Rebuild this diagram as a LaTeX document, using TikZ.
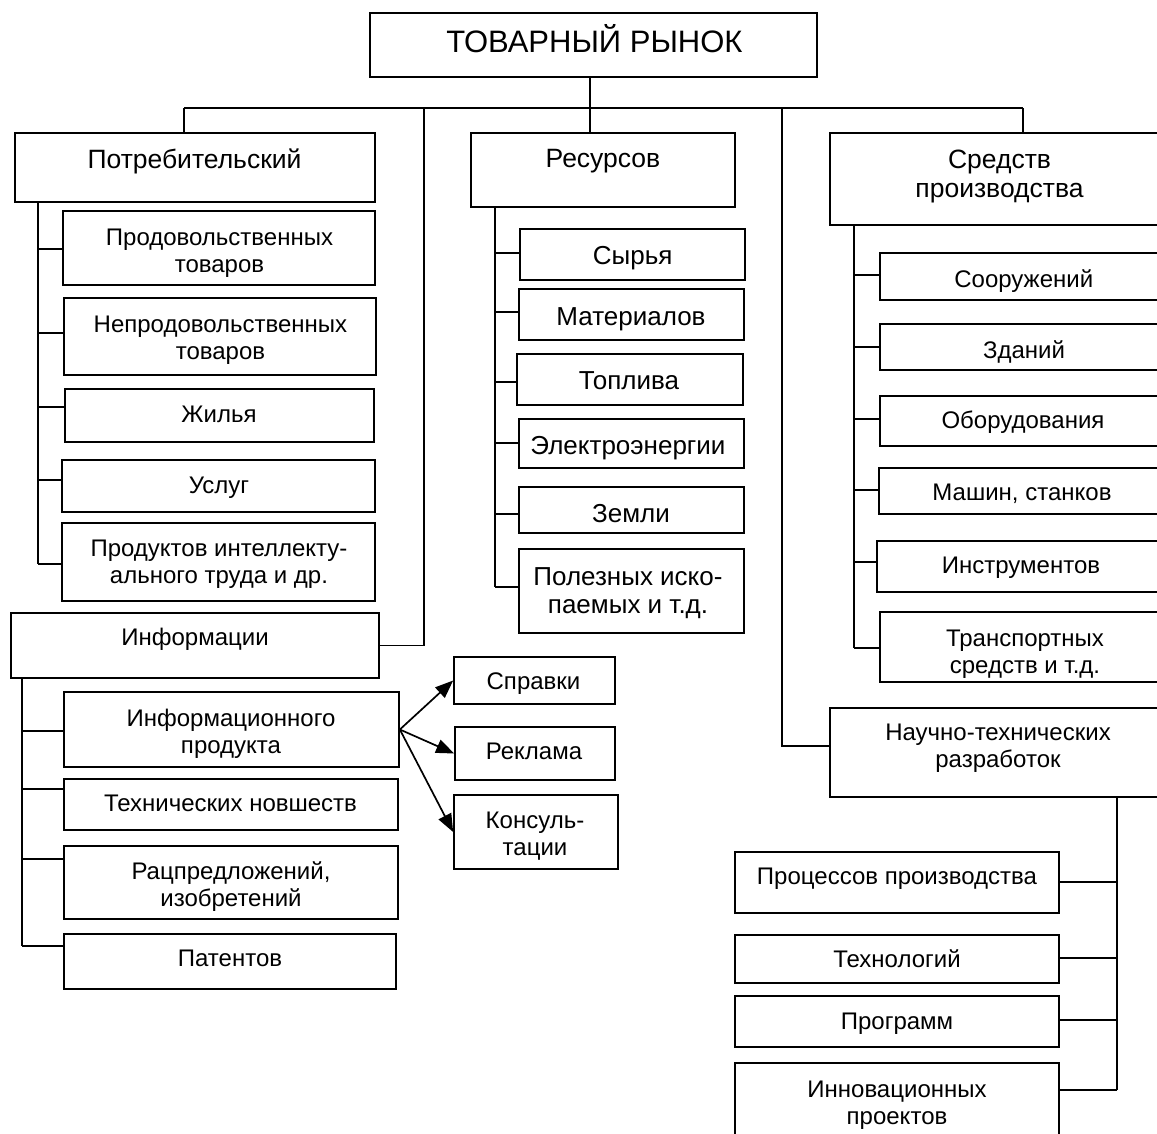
\documentclass[tikz,border=0pt]{standalone}
\usepackage{fontspec}
\setmainfont{Liberation Sans}
\usetikzlibrary{fit,arrows.meta}
\newcommand\fsA{\fontsize{24}{27}\selectfont}
\newcommand\fsB{\fontsize{26}{28}\selectfont}
\newcommand\fsH{\fontsize{26.5}{29}\selectfont}
\newcommand\fsT{\fontsize{31}{36}\selectfont}
\newcommand\bx[5]{\node[box, fit={(#2,#3) (#4,#5)}] (#1) {};}
\begin{document}
\begin{tikzpicture}[x=1pt,y=-1pt,
  box/.style={draw, line width=1.7pt, inner sep=0pt},
  lbl/.style={anchor=base, align=center, inner sep=0pt, font=\fsA},
  lblB/.style={lbl, font=\fsB},
  lblH/.style={lbl, font=\fsH},
  ln/.style={line width=1.7pt},
  arr/.style={line width=1.7pt, -{Triangle[length=18pt,width=14pt]}}]
\clip (0,0) rectangle (1157,1133);
\fill[white] (0,0) rectangle (1157,1133);
% top
\bx{top}{370}{13}{817}{77}
\node[lbl, font=\fsT] (top-t) at (594.5,52) {ТОВАРНЫЙ РЫНОК};
% level 1
\bx{potr}{15}{133}{375}{202}
\node[lblH] (potr-t) at (194.5,168) {Потребительский};
\bx{res}{471}{133}{735}{207}
\node[lblH] (res-t) at (603,167) {Ресурсов};
\bx{sred}{830}{133}{1170}{225}
\node[lblH] (sred-t) at (999.5,197) {Средств\\производства};
\bx{info}{11}{613}{379}{678}
\node[lbl] (info-t) at (195,645) {Информации};
\bx{ntr}{830}{708}{1166}{797}
\node[lbl] (ntr-t) at (998,767) {Научно-технических\\разработок};
% bus
\coordinate (busL) at (184,108);
\coordinate (busR) at (1023,108);
\coordinate (busI) at (424,108);
\coordinate (busN) at (782,108);
\draw[ln] (busL) -- (busR);
\draw[ln] (top.south -| 590,0) -- (res.north -| 590,0);
\draw[ln] (busL) -- (busL |- potr.north);
\draw[ln] (busR) -- (busR |- sred.north);
\draw[ln] (busI) |- (info.east);
\draw[ln] (busN) -- (782,746) -- (ntr.west |- 0,746);
% consumer
\bx{c1}{63}{211}{375}{285}
\node[lbl] (c1-t) at (219.5,272) {Продовольственных\\товаров};
\bx{c2}{64}{298}{376}{375}
\node[lbl] (c2-t) at (220.5,359) {Непродовольственных\\товаров};
\bx{c3}{65}{389}{374}{442}
\node[lbl] (c3-t) at (219,422) {Жилья};
\bx{c4}{62}{460}{375}{512}
\node[lbl] (c4-t) at (219,493) {Услуг};
\bx{c5}{62}{523}{375}{601}
\node[lbl] (c5-t) at (219,583) {Продуктов интеллекту-\\ального труда и др.};
\draw[ln] (potr.south -| 38,0) -- (38,564);
\foreach \n/\y in {c1/249,c2/333,c3/407,c4/480,c5/564}
  \draw[ln] (38,\y) -- (\n.west |- 0,\y);
% resources
\bx{r1}{520}{229}{745}{280}
\node[lblB] (r1-t) at (632.7,264) {Сырья};
\bx{r2}{519}{289}{744}{340}
\node[lblB] (r2-t) at (631,325) {Материалов};
\bx{r3}{517}{354}{743}{405}
\node[lblB] (r3-t) at (629,389) {Топлива};
\bx{r4}{519}{419}{744}{468}
\node[lblB] (r4-t) at (628,454) {Электроэнергии};
\bx{r5}{519}{487}{744}{533}
\node[lblB] (r5-t) at (631,522) {Земли};
\bx{r6}{519}{549}{744}{633}
\node[lblB] (r6-t) at (628,613) {Полезных иско-\\паемых и т.д.};
\draw[ln] (res.south -| 495,0) -- (495,587);
\foreach \n/\y in {r1/253,r2/312,r3/382,r4/443,r5/514,r6/587}
  \draw[ln] (495,\y) -- (\n.west |- 0,\y);
% means of production
\bx{s1}{880}{253}{1166}{300}
\node[lbl] (s1-t) at (1023.8,287) {Сооружений};
\bx{s2}{880}{324}{1166}{370}
\node[lbl] (s2-t) at (1024,358) {Зданий};
\bx{s3}{880}{396}{1166}{446}
\node[lbl] (s3-t) at (1023,428) {Оборудования};
\bx{s4}{879}{468}{1166}{514}
\node[lbl] (s4-t) at (1022,500) {Машин, станков};
\bx{s5}{877}{541}{1166}{592}
\node[lbl] (s5-t) at (1021,573) {Инструментов};
\bx{s6}{880}{612}{1166}{682}
\node[lbl] (s6-t) at (1025,673) {Транспортных\\средств и т.д.};
\draw[ln] (sred.south -| 854,0) -- (854,648);
\foreach \n/\y in {s1/275,s2/347,s3/419,s4/490,s5/562,s6/648}
  \draw[ln] (854,\y) -- (\n.west |- 0,\y);
% information
\bx{i1}{64}{692}{399}{767}
\node[lbl] (i1-t) at (231,753) {Информационного\\продукта};
\bx{i2}{64}{779}{398}{830}
\node[lbl] (i2-t) at (230.5,811) {Технических новшеств};
\bx{i3}{64}{846}{398}{919}
\node[lbl] (i3-t) at (231,906) {Рацпредложений,\\изобретений};
\bx{i4}{64}{934}{396}{989}
\node[lbl] (i4-t) at (230,966) {Патентов};
\draw[ln] (info.south -| 22,0) -- (22,946);
\foreach \n/\y in {i1/731,i2/789,i3/859,i4/946}
  \draw[ln] (22,\y) -- (\n.west |- 0,\y);
\bx{p1}{454}{657}{615}{704}
\node[lbl] (p1-t) at (533.5,689) {Справки};
\bx{p2}{455}{727}{615}{780}
\node[lbl] (p2-t) at (534,759) {Реклама};
\bx{p3}{454}{795}{618}{869}
\node[lbl] (p3-t) at (535,855) {Консуль-\\тации};
\draw[arr] (i1.east) -- (p1.west);
\draw[arr] (i1.east) -- (p2.west);
\draw[arr] (i1.east) -- (p3.west);
% R&D
\bx{n1}{735}{852}{1059}{913}
\node[lbl] (n1-t) at (897,884) {Процессов производства};
\bx{n2}{735}{935}{1059}{983}
\node[lbl] (n2-t) at (897,967) {Технологий};
\bx{n3}{735}{996}{1059}{1047}
\node[lbl] (n3-t) at (897,1029) {Программ};
\bx{n4}{735}{1063}{1059}{1145}
\node[lbl] (n4-t) at (897,1124) {Инновационных\\проектов};
\draw[ln] (ntr.south -| 1117,0) -- (1117,1090);
\foreach \n/\y in {n1/882,n2/958,n3/1020,n4/1090}
  \draw[ln] (1117,\y) -- (\n.east |- 0,\y);
\end{tikzpicture}
\end{document}
